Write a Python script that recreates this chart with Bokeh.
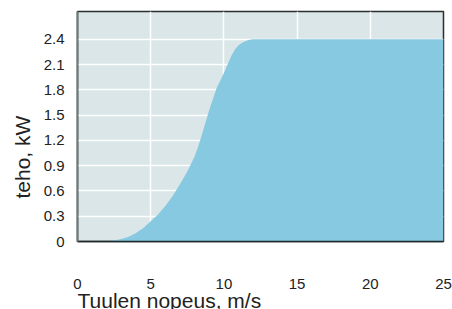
from bokeh.plotting import figure
from bokeh.models import Range1d, FixedTicker, Title
from bokeh.embed import file_html
from bokeh.resources import INLINE

speed = [0, 1, 1.5, 2, 2.5, 3, 3.5, 4, 4.5, 5, 5.5, 6, 6.5, 7, 7.5, 8, 8.25, 8.5, 9, 9.5,
         10, 10.25, 10.5, 10.75, 11, 11.25, 11.5, 11.75, 12,
         13, 14, 15, 16, 17, 18, 19, 20, 21, 22, 23, 24, 25]
power = [0, 0, 0.002, 0.005, 0.012, 0.03, 0.055, 0.1, 0.16, 0.24, 0.32, 0.42, 0.54, 0.68, 0.83, 1.01, 1.13, 1.27, 1.56, 1.82,
         2.0, 2.1, 2.2, 2.28, 2.33, 2.36, 2.38, 2.395, 2.4,
         2.4, 2.4, 2.4, 2.4, 2.4, 2.4, 2.4, 2.4, 2.4, 2.4, 2.4, 2.4, 2.4]
x_ticks = [0, 5, 10, 15, 20, 25]
y_ticks = [0, 0.3, 0.6, 0.9, 1.2, 1.5, 1.8, 2.1, 2.4]
y_tick_labels = {0: "0", 0.3: "0.3", 0.6: "0.6", 0.9: "0.9", 1.2: "1.2",
                 1.5: "1.5", 1.8: "1.8", 2.1: "2.1", 2.4: "2.4"}

FONT = "Liberation Sans"

p = figure(frame_width=366, frame_height=230, output_backend="svg", toolbar_location=None,
           x_range=Range1d(0, 25), y_range=Range1d(0, 2.73),
           min_border_left=77, min_border_right=9, min_border_top=11, min_border_bottom=68)
p.background_fill_color = "#dae6e7"
p.border_fill_color = "white"
p.outline_line_color = "#2a2f2f"
p.outline_line_width = 1.5

p.varea(x=speed, y1=[0] * len(speed), y2=power, fill_color="#86c9e0", fill_alpha=1.0)

p.xaxis.ticker = FixedTicker(ticks=x_ticks)
p.yaxis.ticker = FixedTicker(ticks=y_ticks)
p.yaxis.major_label_overrides = y_tick_labels

for ax in (p.xaxis, p.yaxis):
    ax.major_tick_line_color = None
    ax.minor_tick_line_color = None
    ax.major_label_text_font = FONT
    ax.major_label_text_font_size = "15px"
    ax.major_label_text_color = "#222222"

p.yaxis.axis_line_color = "#6f7b7b"
p.yaxis.axis_line_width = 2
p.xaxis.axis_line_color = "#1f2b2b"
p.xaxis.axis_line_width = 1.5
p.yaxis.major_label_standoff = 7
p.xaxis.major_label_standoff = 31

p.xgrid.grid_line_color = "white"
p.xgrid.grid_line_width = 1.5
p.ygrid.grid_line_color = "white"
p.ygrid.grid_line_width = 1.5

p.add_layout(Title(text="Tuulen nopeus, m/s", align="left", text_font=FONT,
                   text_font_size="21px", text_font_style="normal",
                   text_color="#222222", standoff=-9, offset=0), "below")

p.add_layout(Title(text="teho, kW", align="left", text_font=FONT,
                   text_font_size="21px", text_font_style="normal",
                   text_color="#222222", standoff=13, offset=43), "left")

open("out.html", "w").write(file_html(p, INLINE))
